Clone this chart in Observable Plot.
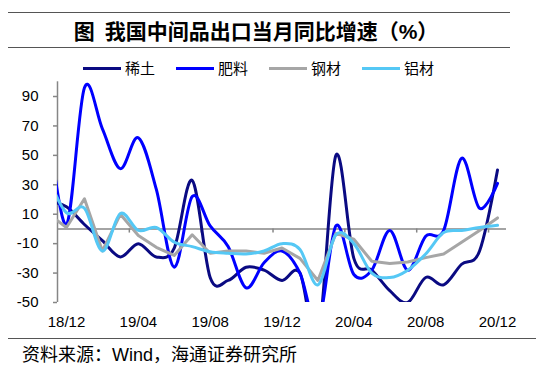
<!DOCTYPE html>
<html><head><meta charset="utf-8">
<script src="https://cdn.jsdelivr.net/npm/d3@7"></script>
<script src="https://cdn.jsdelivr.net/npm/@observablehq/plot@0.6"></script>
<style>
body{margin:0;background:#fff;}
#wrap{position:relative;width:550px;height:375px;overflow:hidden;font-family:"Liberation Sans",Arial,"Noto Sans CJK SC",sans-serif;color:#000;}
.hline{position:absolute;left:8px;height:0;border-top:1.5px solid #555;}
#title{position:absolute;left:0;width:512px;top:18px;line-height:28px;text-align:center;font-size:21px;font-weight:bold;font-family:"Liberation Sans","Noto Sans CJK SC",sans-serif;white-space:nowrap;}
.leg{position:absolute;top:58px;height:20px;}
.leg .sw{position:absolute;left:0;top:9px;width:38px;height:3px;}
.leg .lb{position:absolute;left:42px;top:0;line-height:20px;font-size:15px;font-family:"Noto Sans CJK SC",sans-serif;white-space:nowrap;}
#plot{position:absolute;left:0;top:74px;}
#caption{position:absolute;left:22px;top:343px;line-height:24px;font-size:18px;font-family:"Liberation Sans","Noto Sans CJK SC",sans-serif;white-space:nowrap;}
</style></head>
<body>
<div id="wrap">
  <div class="hline" style="top:12px;width:502px"></div>
  <div id="title">图<span style="margin-left:10px"></span>我国中间品出口当月同比增速（%）</div>
  <div class="hline" style="top:47px;width:502px"></div>
  <div id="legend"></div>
  <div id="plot"></div>
  <div class="hline" style="top:338px;width:528px"></div>
  <div id="caption">资料来源：Wind，海通证券研究所</div>
</div>
<script>
// months from 18/11 (partly outside the frame) to 20/12
const months = ["18/11","18/12","19/01","19/02","19/03","19/04","19/05","19/06","19/07","19/08","19/09","19/10","19/11","19/12","20/01","20/02","20/03","20/04","20/05","20/06","20/07","20/08","20/09","20/10","20/11","20/12"];
const seriesNames = ["稀土","肥料","钢材","铝材"];
const seriesColors = ["#0a0a82","#0000ff","#a6a6a6","#55c8f5"];
const rareEarth = [19, 15, 3, -8, -19, -10, -19, -13, 33, -33, -35, -26, -28, -35, -30, -75, 50, -20, -28, -42, -50, -33, -38, -24, -15, 40];
const fertilizer = [70, 3, 96, 68, 41, 62, 27, -26, 22, 2, -12, -40, -23, -15, -30, -65, 2, -31, -28, -1, -28, -5, -1, 48, 14, 31];
const steel = [10, 1, 20.5, -15, 10, -4.5, -12.5, -18, -4, -16.5, -15, -15, -16.5, -13, -20, -35, -3, -7, -22, -23.5, -22.5, -19.5, -17, -9, -1, 7.5];
const aluminum = [35, 11, 14, -15, 10.5, -1, 1, -9, -12, -15.5, -16.5, -17, -15, -10, -14, -38, -4, -10, -30, -33, -28, -17, -2.5, -1, 1, 2.5];
const yTicks = [-50, -30, -10, 10, 30, 50, 70, 90];
const xTickLabels = ["18/12","19/04","19/08","19/12","20/04","20/08","20/12"];

const seriesValues = [rareEarth, fertilizer, steel, aluminum];
const curves = ["cardinal","cardinal","linear","cardinal"];
const idx = m => months.indexOf(m) - 1; // 18/12 -> 0
const xLabelData = xTickLabels.map(l => ({label: l, x: idx(l)}));
const xMinor = d3.range(3.5, 24, 4);

// legend
const legend = document.getElementById("legend");
const legX = [83, 176, 269, 362];
seriesNames.forEach((n, k) => {
  const d = document.createElement("div");
  d.className = "leg"; d.style.left = legX[k] + "px";
  d.innerHTML = `<div class="sw" style="background:${seriesColors[k]}"></div><div class="lb">${n}</div>`;
  legend.appendChild(d);
});

const lineMarks = seriesValues.map((vals, k) =>
  Plot.line(vals.map((v, i) => ({x: i - 1, y: v})), {
    x: "x", y: "y", stroke: seriesColors[k], strokeWidth: 3, curve: curves[k], clip: true
  })
);

const axisColor = "#868686";
const chart = Plot.plot({
  width: 550, height: 262,
  marginLeft: 57, marginRight: 44, marginTop: 7.3, marginBottom: 34,
  x: {domain: [-0.5, 24.5], axis: null},
  y: {domain: [-50, 100], axis: null},
  style: {background: "transparent", overflow: "visible", fontFamily: "'Liberation Sans', Arial, sans-serif"},
  marks: [
    Plot.ruleX([-0.5], {y1: -50, y2: 100, stroke: axisColor, strokeWidth: 1.5}),
    Plot.ruleY(yTicks, {y: d => d, x1: -0.5 - 4/18, x2: -0.5, stroke: axisColor, strokeWidth: 1.5}),
    Plot.text(yTicks, {x: -0.5, y: d => d, text: d => String(d), dx: -19, textAnchor: "end", fontSize: 15, fill: "#000"}),
    Plot.ruleY([0], {x1: -0.5, x2: 24.5, stroke: axisColor, strokeWidth: 1.5}),
    Plot.ruleX(xMinor, {x: d => d, y1: 0, y2: -2.8, stroke: axisColor, strokeWidth: 1.5}),
    Plot.text(xLabelData, {x: "x", y: -50, text: "label", dy: 20, fontSize: 15, fill: "#000"}),
    ...lineMarks
  ]
});
document.getElementById("plot").appendChild(chart);
</script>
</body></html>
